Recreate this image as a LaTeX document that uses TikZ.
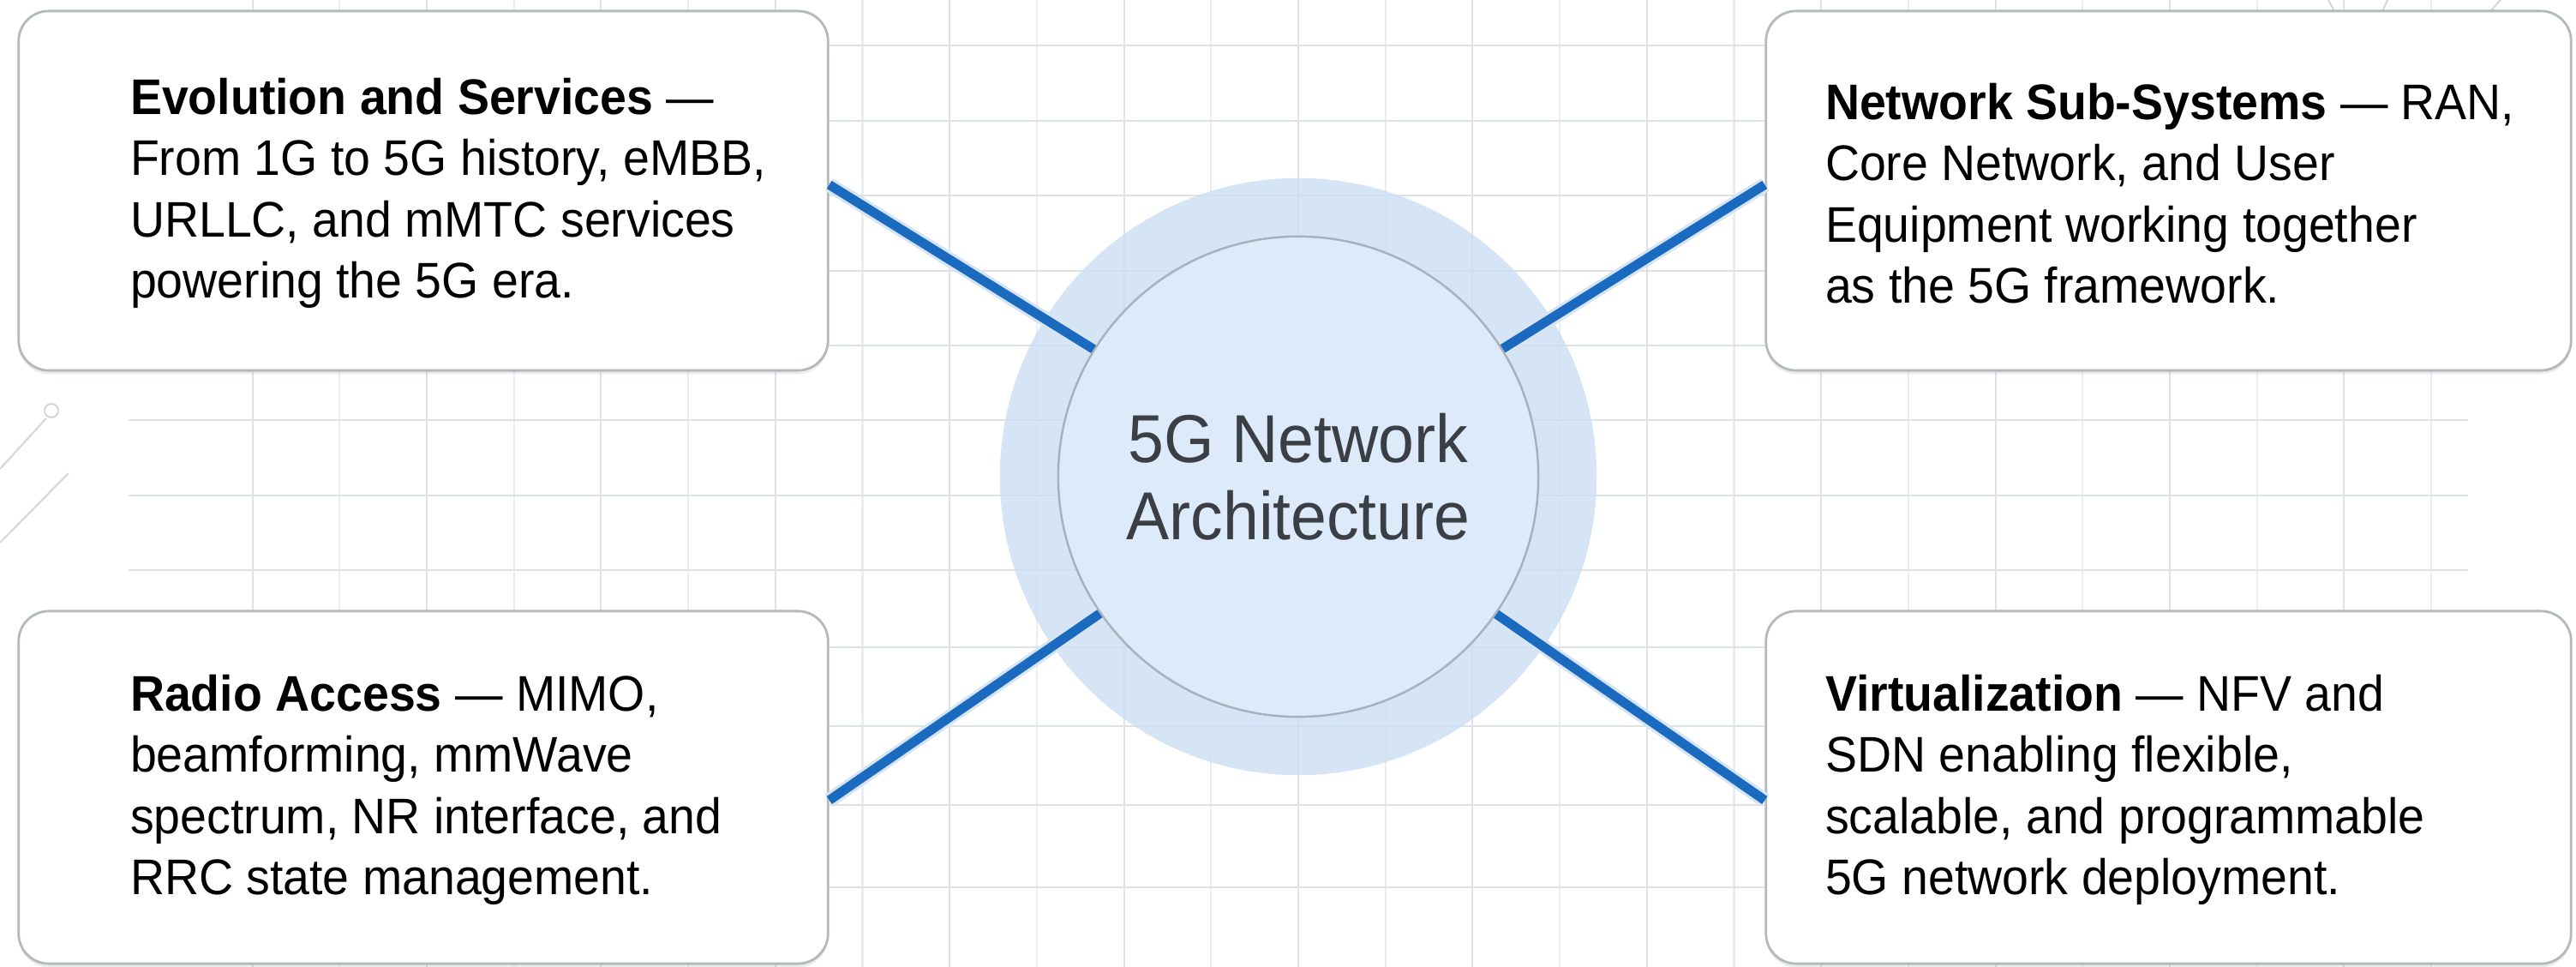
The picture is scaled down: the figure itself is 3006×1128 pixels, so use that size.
\documentclass[tikz,border=0pt]{standalone}
\usepackage{fontspec}
\setmainfont{Liberation Sans}[FakeStretch=0.95]
\usetikzlibrary{positioning,shadows}

\definecolor{gridmajor}{HTML}{DDE2E7}
\definecolor{gridminor}{HTML}{EBEEF1}
\definecolor{boxline}{HTML}{B4B9BE}
\definecolor{halofill}{HTML}{CCDFF4}
\definecolor{hubfill}{HTML}{DFEBFA}
\definecolor{hubline}{HTML}{A7B1BC}
\definecolor{linkblue}{HTML}{1A6BBF}
\definecolor{hubtext}{HTML}{3A3F46}
\definecolor{tracegray}{HTML}{D4D8DC}

\tikzset{
  gridline/.style={draw=gridmajor, line width=0.6pt},
  trace/.style={draw=tracegray, line width=0.6pt},
  infobox/.style={draw=boxline, line width=0.8pt, fill=white, rounded corners=10pt,
    drop shadow={shadow xshift=0pt, shadow yshift=-1.2pt, opacity=0.15}},
  boxtext/.style={align=left, inner sep=0pt, text=black,
    font=\fontsize{16.6}{20.3}\selectfont},
  halo/.style={circle, fill=halofill, fill opacity=0.8, minimum size=6.96cm, inner sep=0pt},
  hub/.style={circle, draw=hubline, line width=0.7pt, fill=hubfill, fill opacity=0.85,
    text opacity=1, minimum size=5.6cm, inner sep=0pt, align=center, text=hubtext,
    font=\fontsize{22.5}{25.6}\selectfont},
  link/.style={draw=linkblue, line width=3.1pt,
    preaction={draw=linkblue!18, line width=4.9pt}},
}

\begin{document}
\begin{tikzpicture}[x=0.01cm, y=-0.01cm]
  \useasboundingbox (0,0) rectangle (3006,1128);
  \fill[white] (0,0) rectangle (3006,1128);

  % background grid
  \foreach \k in {-12,...,13}{
    \ifodd\k \def\gridcol{gridminor}\else\def\gridcol{gridmajor}\fi
    \draw[gridline, draw=\gridcol] ({1515+101.7*\k},0) -- ({1515+101.7*\k},1128);
  }
  \foreach \y in {53,141,228,316,403,490,578,665,755,847,939,1035}
    \draw[gridline] (150,\y) -- (2880,\y);

  % faint circuit traces
  \draw[trace] (0,547) -- (54,488);
  \draw[trace] (60,479) circle (8);
  \draw[trace] (0,633) -- (80,552);
  \draw[trace] (2493,0) arc (180:360:17 and 13);
  \draw[trace] (2717,0) -- (2724,13);
  \draw[trace] (2786,0) -- (2780,13);
  \draw[trace] (2918,0) -- (2906,13);

  % centre
  \node[halo] (halo) at (1515,556) {};
  \node[hub] (hub) at (halo.center) {5G Network\\Architecture};

  % boxes
  \node[infobox, minimum width=9.44cm, minimum height=4.19cm] (tl) at (494,222.5) {};
  \node[infobox, minimum width=9.39cm, minimum height=4.19cm] (tr) at (2530.5,222.5) {};
  \node[infobox, minimum width=9.44cm, minimum height=4.11cm] (bl) at (494,918.5) {};
  \node[infobox, minimum width=9.39cm, minimum height=4.11cm] (br) at (2530.5,918.5) {};

  \node[boxtext, anchor=west] (tl-text) at ([xshift=1.31cm, yshift=-0.03cm]tl.west)
    {\textbf{Evolution and Services} —\\From 1G to 5G history, eMBB,\\URLLC, and mMTC services\\powering the 5G era.};
  \node[boxtext, anchor=west] (tr-text) at ([xshift=0.70cm, yshift=-0.03cm]tr.west)
    {\textbf{Network Sub-Systems} — RAN,\\Core Network, and User\\Equipment working together\\as the 5G framework.};
  \node[boxtext, anchor=west] (bl-text) at ([xshift=1.31cm, yshift=-0.03cm]bl.west)
    {\textbf{Radio Access} — MIMO,\\beamforming, mmWave\\spectrum, NR interface, and\\RRC state management.};
  \node[boxtext, anchor=west] (br-text) at ([xshift=0.70cm, yshift=-0.03cm]br.west)
    {\textbf{Virtualization} — NFV and\\SDN enabling flexible,\\scalable, and programmable\\5G network deployment.};

  % links
  \draw[link] ([yshift=0.07cm]tl.east) -- (hub);
  \draw[link] ([yshift=0.07cm]tr.west) -- (hub);
  \draw[link] ([yshift=-0.15cm]bl.east) -- (hub);
  \draw[link] ([yshift=-0.15cm]br.west) -- (hub);
\end{tikzpicture}
\end{document}
